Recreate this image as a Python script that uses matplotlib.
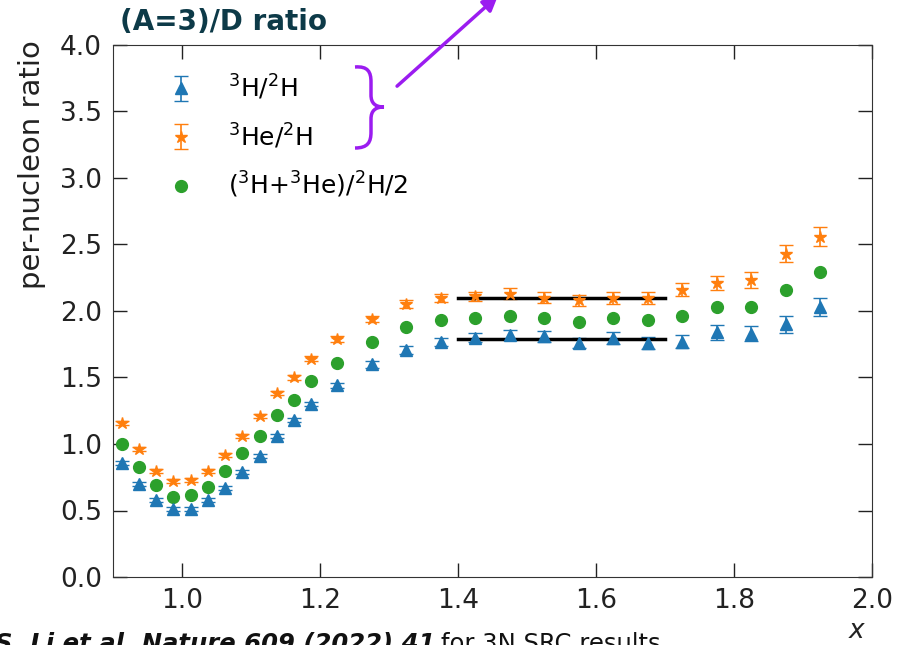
import numpy as np
import matplotlib
matplotlib.use('Agg')
import matplotlib.pyplot as plt
from matplotlib.path import Path
from matplotlib.patches import PathPatch, FancyArrowPatch

# DATA
x = [0.9125, 0.9375, 0.9625, 0.9875, 1.0125, 1.0375, 1.0625, 1.0875, 1.1125,
     1.1375, 1.1625, 1.1875, 1.225, 1.275, 1.325, 1.375, 1.425, 1.475, 1.525,
     1.575, 1.625, 1.675, 1.725, 1.775, 1.825, 1.875, 1.925]

h3_h2 = [0.86, 0.70, 0.58, 0.51, 0.51, 0.58, 0.67, 0.79, 0.91, 1.06, 1.18,
         1.30, 1.44, 1.60, 1.71, 1.77, 1.80, 1.82, 1.81, 1.76, 1.80, 1.76,
         1.77, 1.84, 1.83, 1.90, 2.03]
h3_h2_err = [0.015, 0.015, 0.015, 0.015, 0.015, 0.015, 0.015, 0.015, 0.015,
             0.015, 0.018, 0.018, 0.02, 0.025, 0.03, 0.03, 0.035, 0.04, 0.04,
             0.04, 0.045, 0.045, 0.05, 0.055, 0.055, 0.065, 0.07]

he3_h2 = [1.16, 0.96, 0.80, 0.72, 0.73, 0.80, 0.92, 1.06, 1.21, 1.38, 1.50,
          1.64, 1.79, 1.94, 2.05, 2.10, 2.11, 2.13, 2.10, 2.08, 2.10, 2.10,
          2.16, 2.21, 2.23, 2.43, 2.56]
he3_h2_err = [0.015, 0.015, 0.015, 0.015, 0.015, 0.015, 0.015, 0.015, 0.015,
              0.015, 0.018, 0.018, 0.02, 0.025, 0.03, 0.03, 0.035, 0.04, 0.04,
              0.04, 0.045, 0.045, 0.05, 0.055, 0.06, 0.065, 0.07]

avg = [1.00, 0.83, 0.69, 0.60, 0.62, 0.68, 0.80, 0.93, 1.06, 1.22, 1.33,
       1.47, 1.61, 1.77, 1.88, 1.93, 1.95, 1.96, 1.95, 1.92, 1.95, 1.93,
       1.96, 2.03, 2.03, 2.16, 2.29]

plateau_x = [1.4, 1.7]
plateau_he = 2.10
plateau_h = 1.79

labels = [r'$^3$H/$^2$H', r'$^3$He/$^2$H', r'($^3$H+$^3$He)/$^2$H/2']

W, H = 909, 645
fig = plt.figure(figsize=(W / 100, H / 100), dpi=100)
ax = fig.add_axes([113 / W, 1 - 577 / H, (872 - 113) / W, (577 - 45) / H])

e1 = ax.errorbar(x, h3_h2, yerr=h3_h2_err, fmt='^', color='#1f77b4',
                 ms=8, capsize=5, elinewidth=1.2, label=labels[0])
e2 = ax.errorbar(x, he3_h2, yerr=he3_h2_err, fmt='*', color='#ff7f0e',
                 ms=9, capsize=5, elinewidth=1.2, label=labels[1])
e3, = ax.plot(x, avg, 'o', color='#2ca02c', ms=8.5, label=labels[2])

ax.plot(plateau_x, [plateau_he, plateau_he], color='black', lw=2.5)
ax.plot(plateau_x, [plateau_h, plateau_h], color='black', lw=2.5)

ax.set_xlim(0.9, 2.0)
ax.set_ylim(0.0, 4.0)
ax.set_xticks(np.arange(1.0, 2.01, 0.2))
ax.set_yticks(np.arange(0.0, 4.01, 0.5))
ax.xaxis.set_major_formatter(plt.FormatStrFormatter('%.1f'))
ax.yaxis.set_major_formatter(plt.FormatStrFormatter('%.1f'))
ax.tick_params(direction='in', length=10, width=1, top=True, right=True,
               labelsize=19, colors='#222222', pad=8)
for s in ax.spines.values():
    s.set_color('#333333')

ax.set_ylabel('per-nucleon ratio', fontsize=21, color='#222222')
ax.yaxis.set_label_coords(-0.088, 0.775)
ax.set_xlabel('x', fontsize=19, style='italic', color='#222222')
ax.xaxis.set_label_coords(0.98, -0.078)

leg = ax.legend(handles=[e1, e2, e3], loc='upper left', frameon=False,
                fontsize=18, bbox_to_anchor=(0.04, 0.99), handlelength=1.2,
                handletextpad=1.3, labelspacing=0.78)

# slide decorations
fig.text(120 / W, 1 - 22 / H, '(A=3)/D ratio', fontsize=20, weight='bold',
         color='#0d3a48', va='center', ha='left')

purple = '#9b1cf0'
pts = [(355, 67), (368, 66), (371, 72), (371, 82), (371, 95),
       (371, 103), (375, 107), (384, 107),
       (375, 107), (371, 111), (371, 119), (371, 132),
       (371, 142), (368, 148), (355, 148)]
codes = [Path.MOVETO, Path.CURVE4, Path.CURVE4, Path.CURVE4, Path.LINETO,
         Path.CURVE4, Path.CURVE4, Path.CURVE4,
         Path.CURVE4, Path.CURVE4, Path.CURVE4, Path.LINETO,
         Path.CURVE4, Path.CURVE4, Path.CURVE4]
verts = [(px / W, 1 - py / H) for px, py in pts]
fig.patches.append(PathPatch(Path(verts, codes), fill=False, ec=purple,
                             lw=2.5, transform=fig.transFigure))

fig.patches.append(FancyArrowPatch(
    (395 / W, 1 - 88 / H), (500 / W, 1 + 6 / H), transform=fig.transFigure,
    arrowstyle='-|>', mutation_scale=22, color=purple, lw=2.5))

# reference line at the bottom of the slide (cut by the frame)
t1 = fig.text(-5 / W, -6 / H, 'S. Li et al. Nature 609 (2022) 41',
              fontsize=17.5, weight='bold', style='italic', ha='left',
              va='baseline', color='#111111')
fig.canvas.draw()
bb = t1.get_window_extent()
fig.text(bb.x1 / W + 6 / W, -6 / H, 'for 3N SRC results', fontsize=17.5,
         ha='left', va='baseline', color='#111111')

fig.savefig('out.png', dpi=100)
